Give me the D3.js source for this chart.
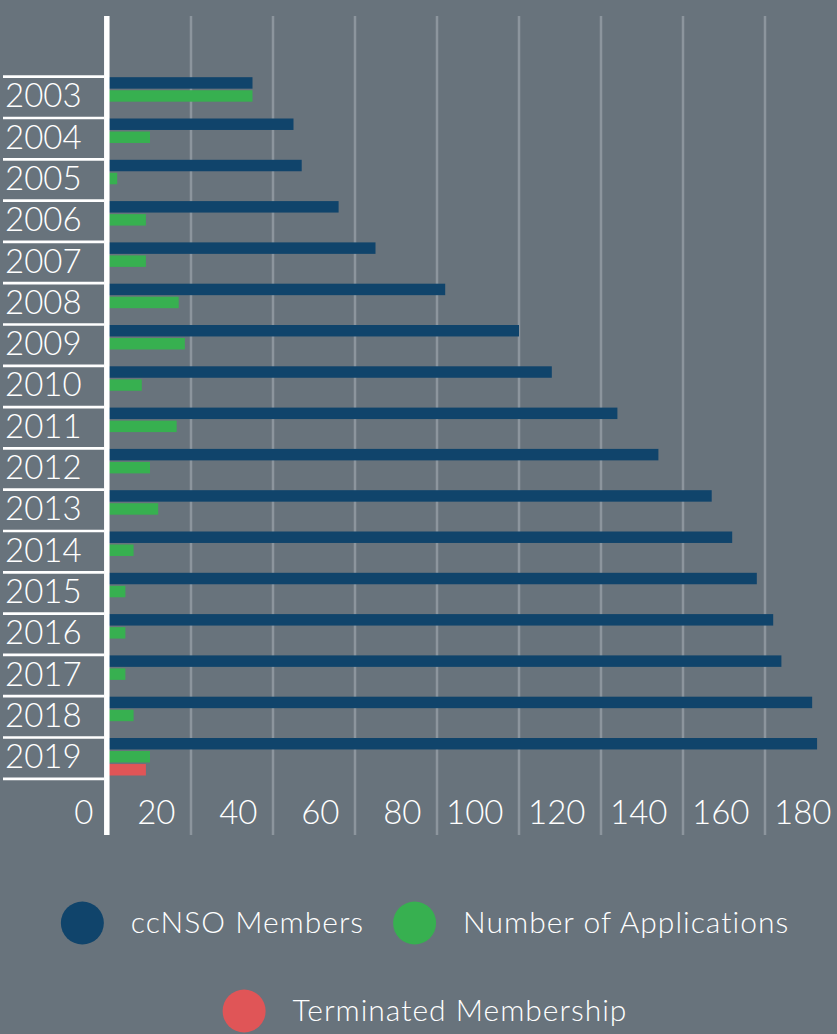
<!DOCTYPE html>
<html lang="en">
    <head>
        <meta charset="utf-8">
        <title>ccNSO Members</title>
        <style>
            body { margin: 0; background: #68737c; }
            text { font-family: Lato, "Open Sans", sans-serif; font-weight: 300; fill: #fff; }
        </style>
    </head>
    <body>

        <svg width="837" height="1034"></svg>
        <script src="https://d3js.org/d3.v7.min.js"></script>
        <script>
        var years = ["2003", "2004", "2005", "2006", "2007", "2008", "2009", "2010", "2011",
                     "2012", "2013", "2014", "2015", "2016", "2017", "2018", "2019"];
        var members    = [35, 45, 47, 56, 65, 82, 100, 108, 124, 134, 147, 152, 158, 162, 164, 171.5, 172.7];
        var applications = [35, 10, 2, 9, 9, 17, 18.5, 8, 16.5, 10, 12, 6, 4, 4, 4, 6, 10];
        var terminated = [0, 0, 0, 0, 0, 0, 0, 0, 0, 0, 0, 0, 0, 0, 0, 0, 9];
        var xTicks = [0, 20, 40, 60, 80, 100, 120, 140, 160, 180];
        var seriesNames = ["ccNSO Members", "Number of Applications", "Terminated Membership"];
        var colors = ["#10446b", "#37b050", "#e05557"];

        var svg = d3.select("svg");

        var x = d3.scaleLinear()
            .domain([0, 180])
            .range([109, 109 + 180 * 4.1]);

        var y = d3.scaleBand()
            .domain(years)
            .range([76.7, 76.7 + 17 * 41.3]);

        var sub = d3.scaleBand()
            .domain(seriesNames)
            .range([0.5, 38])
            .paddingInner(0.12);

        var plotTop = 16, plotBottom = 835;

        // grid lines
        svg.append("g")
            .selectAll("line")
            .data(xTicks.slice(1))
            .join("line")
              .attr("x1", d => x(d))
              .attr("x2", d => x(d))
              .attr("y1", plotTop)
              .attr("y2", plotBottom)
              .attr("stroke", "#8c959d")
              .attr("stroke-width", 2.5);

        // tick labels
        svg.append("g")
            .attr("transform", "translate(0,824)")
            .call(d3.axisBottom(x).tickValues(xTicks).tickSize(0).tickPadding(0))
            .call(g => g.select(".domain").remove())
            .selectAll("text")
              .attr("fill", "#fff")
              .attr("font-family", "Lato, sans-serif")
              .attr("font-size", 33)
              .attr("text-anchor", "end")
              .attr("dx", -16)
              .attr("y", 0)
              .attr("dy", 0);

        // bars
        var rows = years.map(function(yr, i) {
            return {year: yr, values: [members[i], applications[i], terminated[i]]};
        });

        var row = svg.append("g")
            .selectAll("g")
            .data(rows)
            .join("g")
              .attr("transform", d => "translate(0," + y(d.year) + ")");

        row.selectAll("rect")
            .data(d => d.values.map((v, k) => ({name: seriesNames[k], value: v, color: colors[k]})).filter(e => e.value > 0))
            .join("rect")
              .attr("x", x(0))
              .attr("y", d => sub(d.name))
              .attr("width", d => x(d.value) - x(0))
              .attr("height", sub.bandwidth())
              .attr("fill", d => d.color);

        // year separators and labels
        svg.append("g")
            .selectAll("line")
            .data(years.concat(["end"]))
            .join("line")
              .attr("x1", 3)
              .attr("x2", 104)
              .attr("y1", (d, i) => 76.7 + i * y.step())
              .attr("y2", (d, i) => 76.7 + i * y.step())
              .attr("stroke", "#fff")
              .attr("stroke-width", 2.7);

        svg.append("g")
            .selectAll("text")
            .data(years)
            .join("text")
              .attr("x", 5)
              .attr("y", d => y(d) + 30.6)
              .attr("font-size", 33)
              .text(d => d);

        // axis line
        svg.append("line")
            .attr("x1", 106.8)
            .attr("x2", 106.8)
            .attr("y1", plotTop)
            .attr("y2", plotBottom)
            .attr("stroke", "#fff")
            .attr("stroke-width", 5.5);

        // legend
        var legendRows = [[0, 1], [2]];
        var legendY = [923, 1011];
        legendRows.forEach(function(items, r) {
            var lg = svg.append("g");
            var cx = 0;
            items.forEach(function(k, j) {
                if (j > 0) cx += 29;
                lg.append("circle")
                    .attr("cx", cx + 21.5)
                    .attr("cy", legendY[r])
                    .attr("r", 21.5)
                    .attr("fill", colors[k]);
                cx += 43 + 27;
                var t = lg.append("text")
                    .attr("x", cx)
                    .attr("y", legendY[r] + 10)
                    .attr("font-size", 30)
                    .attr("letter-spacing", 1)
                    .text(seriesNames[k]);
                cx += t.node().getComputedTextLength();
            });
            lg.attr("transform", "translate(" + (425 - cx / 2) + ",0)");
        });
        </script>

    </body>
</html>
